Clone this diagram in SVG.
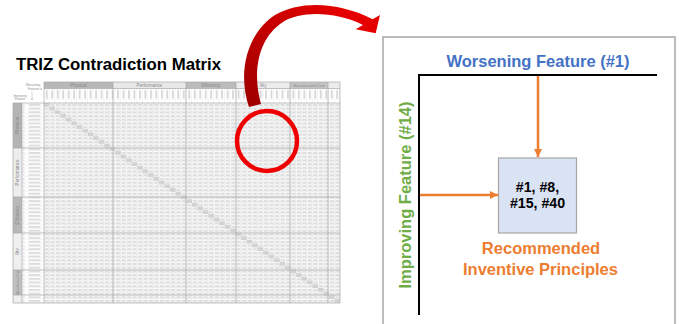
<svg xmlns="http://www.w3.org/2000/svg" width="679" height="324" viewBox="0 0 679 324">
<style>
  .t{font-family:"Liberation Sans",Arial,sans-serif;font-weight:bold}
  .tiny{font-family:"Liberation Sans",Arial,sans-serif;fill:#8a8a8a}
  .sep{stroke:#a8a8a8;stroke-width:0.7;fill:none}
  .blk{stroke:#000;stroke-width:2;fill:none}
  .org{stroke:#ED7D31;stroke-width:2.5;fill:none}
</style>
<defs>
  <pattern id="cell" x="44" y="103" width="5.48" height="3.7" patternUnits="userSpaceOnUse">
    <rect width="5.48" height="3.7" fill="#fafafa"/>
    <rect x="0.8" y="1" width="3.8" height="1.7" fill="#dcdcdc"/>
    <path d="M5.48 0V3.7M0 3.7H5.48" stroke="#cfcfcf" stroke-width="0.5"/>
  </pattern>
  <pattern id="colhdr" x="44" y="88.5" width="5.48" height="14" patternUnits="userSpaceOnUse">
    <rect width="5.48" height="14" fill="#fff"/>
    <rect x="2.1" y="1.5" width="1.3" height="9" fill="#c8c8c8"/>
    <path d="M5.48 0V14" stroke="#d0d0d0" stroke-width="0.5"/>
  </pattern>
  <pattern id="rowname" x="25.5" y="103" width="18.5" height="3.7" patternUnits="userSpaceOnUse">
    <rect width="18.5" height="3.7" fill="#fff"/>
    <rect x="3" y="1.1" width="12" height="1.4" fill="#d4d4d4"/>
    <path d="M0 3.7H18.5" stroke="#d6d6d6" stroke-width="0.5"/>
  </pattern>
  <pattern id="rownum" x="22" y="103" width="3.5" height="3.7" patternUnits="userSpaceOnUse">
    <rect width="3.5" height="3.7" fill="#fff"/>
    <rect x="1" y="1.1" width="1.5" height="1.4" fill="#d4d4d4"/>
    <path d="M0 3.7H3.5" stroke="#d6d6d6" stroke-width="0.5"/>
  </pattern>
  <linearGradient id="redg" gradientUnits="userSpaceOnUse" x1="255" y1="105" x2="340" y2="5">
    <stop offset="0" stop-color="#a00000"/>
    <stop offset="1" stop-color="#e60000"/>
  </linearGradient>
  <marker id="ah" viewBox="0 0 10 10" refX="10" refY="5" markerWidth="3.2" markerHeight="3.2" markerUnits="strokeWidth" orient="auto">
    <path d="M0 0L10 5L0 10Z" fill="#ED7D31"/>
  </marker>
</defs>

<rect width="679" height="324" fill="#fff"/>

<g id="title">
  <text class="t" x="16" y="69.5" font-size="16.8" fill="#000">TRIZ Contradiction Matrix</text>
</g>

<g id="matrix">
  <rect x="44" y="103" width="296" height="200" fill="url(#cell)"/>
  <rect x="44" y="88.5" width="296" height="14.5" fill="url(#colhdr)"/>
  <rect x="25.5" y="103" width="18.5" height="200" fill="url(#rowname)"/>
  <rect x="22" y="103" width="3.5" height="200" fill="url(#rownum)"/>
  <path fill="#d2d2d2" d="M44 103h5.48v3.7h-5.48zm5.48 3.7h5.48v3.7h-5.48zm5.48 3.7h5.48v3.7h-5.48zm5.48 3.7h5.48v3.7h-5.48zm5.48 3.7h5.48v3.7h-5.48zm5.48 3.7h5.48v3.7h-5.48zm5.48 3.7h5.48v3.7h-5.48zm5.48 3.7h5.48v3.7h-5.48zm5.48 3.7h5.48v3.7h-5.48zm5.48 3.7h5.48v3.7h-5.48zm5.48 3.7h5.48v3.7h-5.48zm5.48 3.7h5.48v3.7h-5.48zm5.48 3.7h5.48v3.7h-5.48zm5.48 3.7h5.48v3.7h-5.48zm5.48 3.7h5.48v3.7h-5.48zm5.48 3.7h5.48v3.7h-5.48zm5.48 3.7h5.48v3.7h-5.48zm5.48 3.7h5.48v3.7h-5.48zm5.48 3.7h5.48v3.7h-5.48zm5.48 3.7h5.48v3.7h-5.48zm5.48 3.7h5.48v3.7h-5.48zm5.48 3.7h5.48v3.7h-5.48zm5.48 3.7h5.48v3.7h-5.48zm5.48 3.7h5.48v3.7h-5.48zm5.48 3.7h5.48v3.7h-5.48zm5.48 3.7h5.48v3.7h-5.48zm5.48 3.7h5.48v3.7h-5.48zm5.48 3.7h5.48v3.7h-5.48zm5.48 3.7h5.48v3.7h-5.48zm5.48 3.7h5.48v3.7h-5.48zm5.48 3.7h5.48v3.7h-5.48zm5.48 3.7h5.48v3.7h-5.48zm5.48 3.7h5.48v3.7h-5.48zm5.48 3.7h5.48v3.7h-5.48zm5.48 3.7h5.48v3.7h-5.48zm5.48 3.7h5.48v3.7h-5.48zm5.48 3.7h5.48v3.7h-5.48zm5.48 3.7h5.48v3.7h-5.48zm5.48 3.7h5.48v3.7h-5.48zm5.48 3.7h5.48v3.7h-5.48zm5.48 3.7h5.48v3.7h-5.48zm5.48 3.7h5.48v3.7h-5.48zm5.48 3.7h5.48v3.7h-5.48zm5.48 3.7h5.48v3.7h-5.48zm5.48 3.7h5.48v3.7h-5.48zm5.48 3.7h5.48v3.7h-5.48zm5.48 3.7h5.48v3.7h-5.48zm5.48 3.7h5.48v3.7h-5.48zm5.48 3.7h5.48v3.7h-5.48zm5.48 3.7h5.48v3.7h-5.48zm5.48 3.7h5.48v3.7h-5.48zm5.48 3.7h5.48v3.7h-5.48zm5.48 3.7h5.48v3.7h-5.48zm5.48 3.7h5.48v3.7h-5.48z"/>
  <!-- header tabs -->
  <rect x="44" y="82" width="69" height="6.5" fill="#b8b8b8"/>
  <rect x="113" y="82" width="73" height="6.5" fill="#e8e8e8"/>
  <rect x="186" y="82" width="50" height="6.5" fill="#bcbcbc"/>
  <rect x="236" y="82" width="54" height="6.5" fill="#ececec"/>
  <rect x="290" y="82" width="38" height="6.5" fill="#c4c4c4"/>
  <rect x="328" y="82" width="12" height="6.5" fill="#ececec"/>
  <text class="tiny" x="78.5" y="87" font-size="4.5" text-anchor="middle" fill="#8a8a8a">Physical</text>
  <text class="tiny" x="149.5" y="87" font-size="4.5" text-anchor="middle">Performance</text>
  <text class="tiny" x="211" y="87" font-size="4.5" text-anchor="middle">Efficiency</text>
  <text class="tiny" x="263" y="87" font-size="4.5" text-anchor="middle">Ility</text>
  <text class="tiny" x="309" y="87" font-size="4" text-anchor="middle">Manufacture/Cost</text>
  <!-- left bands -->
  <rect x="13" y="103" width="9" height="45" fill="#b4b4b4"/>
  <rect x="13" y="148" width="9" height="49" fill="#ededed"/>
  <rect x="13" y="197" width="9" height="36" fill="#b8b8b8"/>
  <rect x="13" y="233" width="9" height="37" fill="#efefef"/>
  <rect x="13" y="270" width="9" height="25" fill="#c0c0c0"/>
  <rect x="13" y="295" width="9" height="8" fill="#efefef"/>
  <text class="tiny" transform="translate(19.2 125.5) rotate(-90)" font-size="4.5" text-anchor="middle" fill="#7a7a7a">Physical</text>
  <text class="tiny" transform="translate(19.2 172.5) rotate(-90)" font-size="4.5" text-anchor="middle">Performance</text>
  <text class="tiny" transform="translate(19.2 215) rotate(-90)" font-size="4.5" text-anchor="middle" fill="#7a7a7a">Efficiency</text>
  <text class="tiny" transform="translate(19.2 251.5) rotate(-90)" font-size="4.5" text-anchor="middle">Ility</text>
  <text class="tiny" transform="translate(18.8 282.5) rotate(-90)" font-size="3.2" text-anchor="middle" fill="#7a7a7a">Manufacture/Cost</text>
  <!-- corner labels -->
  <text class="tiny" x="33" y="86" font-size="3" text-anchor="middle">Worsening</text>
  <text class="tiny" x="33" y="89.5" font-size="3" text-anchor="middle">Feature</text>
  <text class="tiny" x="20" y="96.5" font-size="3" text-anchor="middle">Improving</text>
  <text class="tiny" x="20" y="100" font-size="3" text-anchor="middle">Feature</text>
  <path d="M32 91.5V100M30.8 98.5L32 100L33.2 98.5M37 89H42M40.5 87.8L42 89L40.5 90.2" stroke="#aaa" stroke-width="0.5" fill="none"/>
  <!-- section separators -->
  <path class="sep" d="M44 82V303M113 82V303M186 82V303M236 82V303M290 82V303M328 82V303M340 82V303M13 103V303M22 103V303"/>
  <path class="sep" d="M13 103H340M13 148H340M13 197H340M13 233H340M13 270H340M13 295H340M13 303H340M44 88.5H340M44 82H340"/>
</g>

<g id="highlight-circle">
  <circle cx="267" cy="141" r="30" fill="none" stroke="#ee0000" stroke-width="4.5"/>
</g>

<g id="panel">
  <rect x="383" y="37" width="292" height="300" fill="#fff" stroke="#a6a6a6" stroke-width="1.5"/>
  <path class="blk" d="M657 75H419V315"/>
</g>

<g id="worsening-label">
  <text class="t" x="538" y="67" font-size="16.5" text-anchor="middle" fill="#4472C4">Worsening Feature (#1)</text>
</g>

<g id="improving-label">
  <text class="t" transform="translate(410.5 195) rotate(-90)" font-size="16.5" text-anchor="middle" fill="#70AD47">Improving Feature (#14)</text>
</g>

<g id="result-box">
  <rect x="498.5" y="158" width="78" height="75" fill="#DAE3F3" stroke="#a6a6a6" stroke-width="1.2"/>
  <text class="t" x="537.5" y="191.5" font-size="14.2" text-anchor="middle" fill="#000">#1, #8,</text>
  <text class="t" x="537.5" y="208" font-size="14.2" text-anchor="middle" fill="#000">#15, #40</text>
</g>

<g id="recommended-label">
  <text class="t" x="541" y="254" font-size="16.5" text-anchor="middle" fill="#ED7D31">Recommended</text>
  <text class="t" x="540.5" y="275" font-size="16.5" text-anchor="middle" fill="#ED7D31">Inventive Principles</text>
</g>

<g id="connectors">
  <path d="M249 107C238 75 245 35 275 15C300 0 340 2 372.7 19.3L380 15L375.7 33.3L355.7 29.3L363 25C335 11 300 11 283 22C258 38 252 72 261 104Z" fill="url(#redg)"/>
  <path class="org" d="M538 76V157" marker-end="url(#ah)"/>
  <path class="org" d="M420 195H498" marker-end="url(#ah)"/>
</g>
</svg>
